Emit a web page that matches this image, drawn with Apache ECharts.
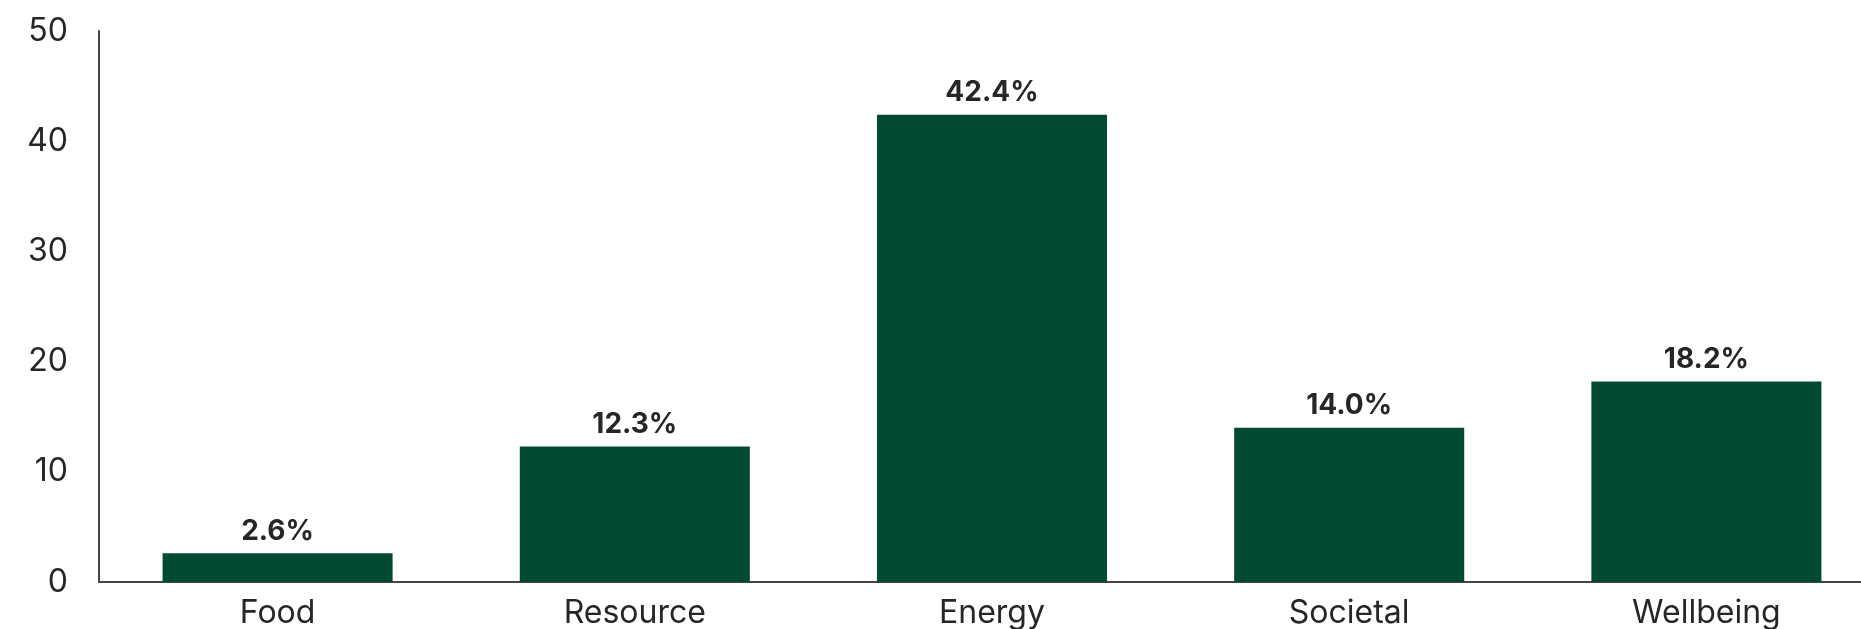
<!DOCTYPE html>
<html>
<head>
<meta charset="utf-8">
<script src="https://cdn.jsdelivr.net/npm/echarts@6/dist/echarts.min.js"></script>
<style>
html,body{margin:0;padding:0;background:#fff;overflow:hidden;width:1861px;height:629px;}
#c{width:1885px;height:629px;}
</style>
</head>
<body>
<div id="c"></div>
<script>
const categories = ['Food', 'Resource', 'Energy', 'Societal', 'Wellbeing'];
const values = [2.6, 12.3, 42.4, 14.0, 18.2];
const yTicks = { min: 0, max: 50, interval: 10 };

const chart = echarts.init(document.getElementById('c'), null, { renderer: 'canvas' });
chart.setOption({
  animation: false,
  backgroundColor: '#ffffff',
  grid: { left: 99, right: 0, top: 31, bottom: 45, containLabel: false },
  xAxis: {
    type: 'category',
    data: categories,
    axisLine: { show: true, lineStyle: { color: '#444', width: 2 } },
    axisTick: { show: false },
    axisLabel: { color: '#262626', fontFamily: 'Inter', fontSize: 32, margin: 15 }
  },
  yAxis: {
    type: 'value',
    min: yTicks.min, max: yTicks.max, interval: yTicks.interval,
    axisLine: { show: true, lineStyle: { color: '#444', width: 2 } },
    axisTick: { show: false },
    splitLine: { show: false },
    axisLabel: { color: '#262626', fontFamily: 'Inter', fontSize: 32, margin: 31 }
  },
  series: [{
    type: 'bar',
    data: values,
    barCategoryGap: '35.6%',
    itemStyle: { color: '#024b32' },
    label: {
      show: true,
      position: 'top',
      distance: 8,
      color: '#262626',
      fontFamily: 'Inter',
      fontWeight: 'bold',
      fontSize: 28,
      formatter: p => p.value.toFixed(1) + '%'
    }
  }]
});
</script>
</body>
</html>
